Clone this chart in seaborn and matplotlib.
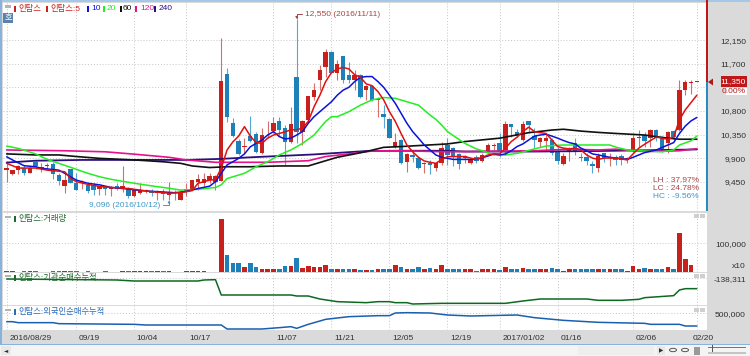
import matplotlib
matplotlib.use("Agg")
import matplotlib.pyplot as plt
from matplotlib.patches import Rectangle, Polygon
import numpy as np
import pandas as pd
import seaborn as sns

# daily candles, 2016/08/29 - 2017/02/20
opens = [9670, 9600, 9670, 9720, 9620, 9820, 9710, 9750, 9780, 9580,
         9360, 9690, 9430, 9420, 9390, 9390, 9320, 9340, 9320, 9360,
         9320, 9310, 9170, 9240, 9280, 9280, 9230, 9260, 9200, 9260,
         9110, 9280, 9320, 9450, 9420, 9480, 9450, 9460, 11500, 10560,
         10230, 10110, 10320, 10360, 9990, 10370, 10420, 10610, 10470, 10210,
         11440, 10400, 10630, 11070, 11390, 11630, 11930, 11530, 11840, 11490,
         11390, 11490, 11190, 11280, 11000, 10740, 10650, 10110, 10250, 9820,
         9960, 9900, 9790, 9810, 9710, 9800, 10150, 10090, 9970, 9900,
         9800, 9930, 9850, 10040, 10130, 10190, 10060, 10550, 10400, 10250,
         10610, 10320, 10200, 10230, 10250, 10020, 9790, 10020, 10180, 9930,
         9930, 9790, 9720, 9990, 9900, 9930, 9940, 9860, 10060, 10280,
         10340, 10280, 10440, 10280, 10180, 10410, 10440, 11190, 11330, 11350]
closes = [9720, 9670, 9740, 9620, 9720, 9740, 9720, 9760, 9590, 9460,
          9480, 9430, 9300, 9450, 9270, 9290, 9360, 9320, 9340, 9320,
          9360, 9170, 9300, 9270, 9300, 9230, 9260, 9210, 9240, 9230,
          9240, 9320, 9480, 9510, 9510, 9550, 9550, 11370, 10680, 10330,
          9980, 10130, 10230, 10020, 10340, 10380, 10560, 10440, 10210, 10550,
          10390, 10600, 11090, 11190, 11580, 11930, 11530, 11690, 11390, 11390,
          11490, 11070, 11280, 11010, 11020, 10680, 10290, 10200, 9800, 9980,
          9930, 9710, 9810, 9760, 9800, 10090, 9960, 9940, 9790, 9940,
          9860, 9850, 9960, 10150, 10150, 10040, 10550, 10490, 10320, 10550,
          10530, 10250, 10290, 10290, 9990, 9850, 9940, 10090, 10020, 9900,
          9850, 9740, 9940, 9900, 9920, 9860, 9860, 9900, 10280, 10300,
          10230, 10440, 10280, 10070, 10390, 10300, 11190, 11350, 11350, 11350]
highs = [9820, 9670, 9770, 9770, 9740, 9860, 9800, 9800, 9830, 9610,
         9610, 9700, 9610, 9480, 9450, 9420, 9360, 9360, 9360, 9420,
         9750, 9340, 9320, 9430, 9320, 9320, 9290, 9320, 9440, 9290,
         9290, 9420, 9480, 9600, 9610, 9610, 9580, 12200, 11610, 10660,
         10260, 10280, 10710, 10390, 10470, 10600, 10680, 10680, 10530, 10870,
         12550, 10630, 11090, 11330, 11680, 11980, 11950, 11780, 11850, 11740,
         11580, 11500, 11300, 11300, 11070, 10910, 10660, 10370, 10260, 9990,
         10060, 9920, 9830, 9860, 9800, 10210, 10280, 10120, 9990, 9960,
         9880, 9960, 9990, 10180, 10190, 10370, 10610, 10550, 10450, 10610,
         10610, 10470, 10310, 10370, 10280, 10120, 9990, 10120, 10280, 9990,
         9990, 9850, 9990, 10000, 10000, 9960, 9980, 9930, 10380, 10440,
         10390, 10450, 10450, 10320, 10410, 10440, 11390, 11390, 11390, 11350]
lows = [9450, 9580, 9600, 9580, 9610, 9700, 9640, 9670, 9510, 9390,
        9240, 9420, 9290, 9320, 9240, 9200, 9200, 9200, 9180, 9290,
        9260, 9130, 9150, 9220, 9230, 9170, 9100, 9100, 9096, 9110,
        9100, 9170, 9320, 9300, 9360, 9420, 9300, 9460, 10580, 10310,
        9960, 10000, 10210, 10000, 9980, 10280, 10370, 10320, 9770, 10180,
        10180, 10150, 10560, 11010, 11200, 11440, 11520, 11390, 11330, 11330,
        11200, 11040, 11010, 10980, 10680, 10480, 10280, 10090, 9790, 9640,
        9820, 9690, 9610, 9600, 9660, 9770, 9770, 9750, 9700, 9800,
        9790, 9800, 9830, 10000, 10060, 9930, 9960, 10300, 10300, 10230,
        10370, 10090, 10120, 10060, 9960, 9790, 9770, 9850, 9960, 9850,
        9770, 9620, 9640, 9830, 9740, 9770, 9770, 9810, 10020, 10120,
        10120, 10120, 10230, 10020, 9990, 10250, 10410, 11100, 11130, 11350]
volumes = [3000, 3000, 0, 3000, 3000, 3000, 0, 0, 3000, 3000,
           3000, 3000, 3000, 0, 3000, 0, 0, 3000, 0, 0,
           3000, 3000, 3000, 3000, 3000, 3000, 3000, 3000, 3000, 0,
           0, 3000, 3000, 3000, 3000, 0, 0, 187900, 57900, 28400,
           28400, 15400, 30700, 15400, 10600, 10600, 8300, 9500, 20100, 20100,
           47300, 13000, 20100, 16500, 17700, 21300, 8300, 9500, 8300, 7100,
           7100, 4700, 5900, 4700, 7100, 8300, 7100, 22500, 17700, 8300,
           8300, 15400, 10600, 13000, 7100, 24800, 8300, 8300, 8300, 7100,
           7100, 3500, 7100, 9500, 7100, 5900, 16500, 7100, 7100, 11800,
           7100, 9500, 9500, 7100, 11800, 8300, 3500, 9500, 9500, 7100,
           7100, 9500, 7100, 7100, 7100, 7100, 7100, 2400, 20100, 9500,
           11800, 9500, 7100, 7100, 16500, 9500, 137100, 42600, 22500, 0]

# moving averages, read at the day index in *_days
ma5_days = [0, 2, 5, 7, 8, 10, 11, 12, 14, 16, 18, 21, 23, 25, 28, 30, 32, 33, 35, 36, 37, 38, 39, 40, 41, 42, 43, 44,
            45, 46, 47, 48, 49, 50, 51, 52, 53, 54, 55, 56, 57, 58, 59, 60, 61, 62, 63, 64, 65, 66, 67, 68, 69, 70, 71,
            72, 73, 74, 75, 76, 77, 78, 79, 80, 81, 82, 83, 84, 85, 86, 87, 88, 89, 90, 91, 92, 93, 94, 95, 96, 97, 98,
            99, 100, 101, 102, 103, 105, 107, 108, 109, 110, 111, 112, 113, 114, 115, 116, 117, 118, 119]
ma5_vals = [9800, 9710, 9710, 9670, 9660, 9640, 9515, 9450, 9400, 9360, 9340, 9320, 9290, 9260, 9230, 9240, 9280, 9420,
            9480, 9490, 9710, 10055, 10210, 10320, 10500, 10320, 10195, 10180,
            10280, 10340, 10370, 10400, 10440, 10440, 10470, 10600, 10880, 11100, 11360, 11530, 11600, 11630, 11600,
            11490, 11440, 11315, 11280, 11170, 11010, 10785, 10600, 10370, 10150, 10020, 9915,
            9845, 9820, 9800, 9875, 9925, 9930, 9930, 9930, 9900, 9875, 9915, 9960, 9980, 9980, 10090, 10215, 10300,
            10405, 10490, 10405, 10385, 10370, 10245, 10120, 10090, 10075, 10090,
            10055, 9960, 9900, 9875, 9900, 9900, 9865, 9980, 10090, 10165, 10235, 10300, 10280, 10260, 10300, 10630,
            10820, 10960, 11100]
ma10_days = [0, 1, 3, 5, 6, 9, 10, 12, 14, 16, 18, 21, 23, 26, 29, 31, 33, 35, 36, 37, 38, 39, 40, 41, 42, 43, 44, 45,
             46, 47, 48, 49, 50, 51, 52, 53, 54, 55, 56, 57, 58, 59, 60, 61, 62, 63, 64, 65, 66, 67, 68, 69, 70, 71, 72,
             73, 74, 75, 77, 79, 81, 83, 84, 85, 86, 87, 88, 89, 90, 91, 92, 93, 94, 95, 96, 97, 98, 99, 100, 101, 102,
             104, 107, 108, 110, 112, 114, 115, 116, 117, 118, 119]
ma10_vals = [9925, 9865, 9755, 9735, 9705, 9670, 9610, 9480, 9420, 9390, 9340, 9310, 9280, 9260, 9240, 9265, 9320, 9365,
             9450, 9610, 9770, 9830, 9895, 9980, 10115, 10180, 10245, 10340,
             10405, 10310, 10265, 10280, 10340, 10405, 10565, 10690, 10785, 10880, 10975, 11100, 11195, 11250, 11360,
             11440, 11455, 11455, 11360, 11250, 11100, 10945, 10755, 10565, 10405, 10280, 10150,
             10055, 9960, 9915, 9875, 9875, 9875, 9940, 9980, 9960, 9980, 10040, 10120, 10170, 10245, 10320, 10340,
             10355, 10320, 10280, 10235, 10195, 10170, 10090, 10040, 9980, 9960,
             9915, 9875, 9915, 10005, 10055, 10150, 10195, 10370, 10510, 10610, 10675]
ma20_days = [0, 2, 5, 7, 9, 11, 14, 16, 18, 22, 25, 28, 30, 33, 36, 37, 38, 41, 43, 45, 47, 49, 51, 53, 54, 55, 56, 57,
             59, 61, 63, 65, 67, 69, 71, 73, 74, 75, 76, 79, 81, 82, 84, 86, 88, 91, 93, 96, 100, 104, 105, 107, 110,
             113, 115, 116, 118, 119]
ma20_vals = [10130, 10085, 9980, 9875, 9800, 9725, 9610, 9545, 9495, 9420, 9370, 9325, 9290, 9305, 9340, 9390, 9510,
             9610, 9735, 9830, 9960, 10055, 10180, 10340, 10470, 10600, 10690, 10690,
             10785, 10910, 11010, 11055, 11040, 10975, 10910, 10720, 10640, 10530, 10405, 10180, 10075, 10040, 9960,
             9960, 9990, 10075, 10130, 10150, 10150, 10150, 10110, 10055, 10035,
             10020, 10055, 10150, 10230, 10320]
ma60_days = [0, 5, 9, 12, 16, 22, 27, 30, 32, 35, 38, 42, 47, 52, 55, 57, 60, 62, 65, 68, 72, 76, 79, 85, 90, 94, 96,
             99, 102, 105, 110, 114, 116, 119]
ma60_vals = [9980, 9960, 9960, 9930, 9895, 9865, 9830, 9800, 9750, 9720, 9735, 9735, 9750, 9750, 9850, 9915, 9980,
             10025, 10105, 10120, 10145, 10170, 10215, 10280, 10385, 10435, 10450,
             10415, 10390, 10370, 10340, 10280, 10260, 10260]
ma120_days = [0, 10, 17, 22, 28, 31, 36, 45, 52, 55, 59, 63, 68, 76, 79, 91, 97, 102, 105, 110, 116, 119]
ma120_vals = [10055, 10040, 10020, 9975, 9915, 9865, 9820, 9820, 9850, 9930, 9980, 10035, 10040, 10020, 10025, 10040,
              10070, 10055, 10070, 10025, 10040, 10080]
ma240_days = [0, 5, 13, 22, 31, 37, 42, 45, 53, 62, 68, 76, 79, 91, 102, 119]
ma240_vals = [9815, 9850, 9865, 9865, 9865, 9885, 9915, 9930, 9970, 10035, 10040, 10040, 10025, 10025, 10035, 10065]

inst_days = [0, 19, 22, 33, 34, 36, 37, 49, 50, 52, 54, 57, 62, 64, 66, 67, 69, 70, 75, 86, 89, 92, 100, 102, 106, 109,
             110, 115, 116, 117, 119]
inst_vals = [-140300, -143300, -146300, -146300, -143300, -142300, -188300, -188300, -191300, -191300, -200300, -208300,
             -211300, -208300, -208300, -211300, -211300, -215300, -213300, -213300, -206300, -200300, -200300, -204300,
             -204300, -201300, -196300, -190300, -173300, -169300, -169300]
foreign_days = [0, 1, 2, 8, 9, 22, 24, 37, 38, 44, 47, 49, 50, 52, 55, 59, 64, 66, 67, 69, 73, 76, 80, 88, 91, 96, 100,
                102, 110, 111, 116, 117, 119]
foreign_vals = [375000, 375000, 360000, 360000, 345000, 335000, 325000, 325000, 265000, 265000, 285000, 300000, 275000,
                335000, 410000, 450000, 465000, 465000, 505000, 510000, 505000, 475000, 460000, 475000, 435000, 395000,
                375000, 365000, 350000, 335000, 335000, 310000, 310000]

price_ticks = [12150, 11700, 11250, 10800, 10350, 9900, 9450]
price_labels = ['12,150', '11,700', '', '10,800', '10,350', '9,900', '9,450']
date_days = [0, 12, 22, 31, 46, 56, 66, 76, 85, 95, 108, 119]
date_labels = ['2016/08/29', '09/19', '10/04', '10/17', '11/07', '11/21', '12/05', '12/19',
               '2017/01/02', '01/16', '02/06', '02/20']

W, H = 750, 356
L, R = 3, 707
RED, BLUE = '#c8201c', '#1d80b8'
RED_TXT, BLUE_TXT = '#a84444', '#3f97c8'
GRID = '#c6c6c6'

sns.set_style('white')
plt.rcParams['font.family'] = ['Liberation Sans', 'Noto Sans CJK KR', 'DejaVu Sans']
plt.rcParams['font.size'] = 6
plt.rcParams['patch.force_edgecolor'] = False

days = np.arange(len(opens))
candles = pd.DataFrame({'day': days, 'open': opens, 'high': highs, 'low': lows, 'close': closes, 'volume': volumes})
candles['side'] = np.where(candles['close'] >= candles['open'], 'up', 'down')
side_colors = {'up': RED, 'down': BLUE}
wick_colors = {'up': '#d4706c', 'down': '#58a6d2'}

fig = plt.figure(figsize=(W / 100, H / 100), dpi=100, facecolor='#dadada')


def box(x0, y0, x1, y1, color, z=5):
    fig.add_artist(Rectangle((x0 / W, 1 - y1 / H), (x1 - x0) / W, (y1 - y0) / H,
                             transform=fig.transFigure, facecolor=color, edgecolor='none', zorder=z))


def label(x, y, s, color='#303030', ha='left', size=6, **kw):
    fig.text(x / W, 1 - y / H, s, color=color, ha=ha, va='center', fontsize=size, zorder=8, **kw)


def panel(top, bottom):
    ax = fig.add_axes([L / W, 1 - bottom / H, (R - L) / W, (bottom - top) / H])
    ax.set_xlim((L - 6.67) / 5.8, (R - 6.67) / 5.8)
    ax.set_xticks(date_days)
    ax.set_xticklabels([])
    ax.yaxis.tick_right()
    ax.tick_params(axis='x', length=0)
    ax.tick_params(axis='y', length=0, pad=28, labelsize=6, labelcolor='#303030')
    ax.grid(True, color=GRID, linestyle=(0, (1, 2)), linewidth=0.7)
    ax.set_axisbelow(True)
    sns.despine(ax=ax, left=True, right=True, top=True, bottom=True)
    return ax


def right_labels(ax, ticks, labels):
    ax.set_yticks(ticks)
    ax.set_yticklabels(labels, ha='right')


ax_price = panel(3, 211)
ax_vol = panel(213, 271.5)
ax_inst = panel(273, 305)
ax_foreign = panel(306, 330)

# candles
for side, part in candles.groupby('side'):
    ax_price.vlines(part['day'], part['low'], part['high'], color=wick_colors[side], linewidth=0.8, zorder=2)
    ax_price.bar(part['day'], (part['close'] - part['open']).abs().clip(lower=12),
                 bottom=part[['open', 'close']].min(axis=1), width=0.76, color=side_colors[side],
                 edgecolor='none', linewidth=0, zorder=3)

ma_lines = [(ma240_days, ma240_vals, '#2c0f7c', 1.3),
            (ma120_days, ma120_vals, '#e5128c', 1.2),
            (ma60_days, ma60_vals, '#111111', 1.2),
            (ma20_days, ma20_vals, '#22ee22', 1.1),
            (ma10_days, ma10_vals, '#0a14d8', 1.1),
            (ma5_days, ma5_vals, '#e01010', 1.1)]
for d, v, c, lw in ma_lines:
    sns.lineplot(x=d, y=v, color=c, linewidth=lw, ax=ax_price, estimator=None, errorbar=None, zorder=4)

ax_price.set_xlim((L - 6.67) / 5.8, (R - 6.67) / 5.8)
ax_price.set_ylim(8891, 12858)
right_labels(ax_price, price_ticks, price_labels)

ax_price.annotate('12,550 (2016/11/11)', xy=(50, 12550), xytext=(8, 5), textcoords='offset pixels',
                  color=RED_TXT, fontsize=6, va='center', zorder=6,
                  arrowprops=dict(arrowstyle='-|>,head_width=0.1,head_length=0.2', color=RED_TXT, lw=0.7,
                                  connectionstyle='angle,angleA=0,angleB=90', shrinkA=0, shrinkB=0))
ax_price.annotate('9,096 (2016/10/12)', xy=(28, 9096), xytext=(-9, -5), textcoords='offset pixels',
                  color=BLUE_TXT, fontsize=6, ha='right', va='center', zorder=6,
                  arrowprops=dict(arrowstyle='-|>,head_width=0.1,head_length=0.2', color=BLUE_TXT, lw=0.7,
                                  connectionstyle='angle,angleA=0,angleB=90', shrinkA=0, shrinkB=0))

# volume
sns.barplot(data=candles, x='day', y='volume', hue='side', palette=side_colors, native_scale=True, dodge=False,
            width=0.78, saturation=1, errorbar=None, legend=False, linewidth=0, edgecolor='none', ax=ax_vol)
ax_vol.set_xlim((L - 6.67) / 5.8, (R - 6.67) / 5.8)
ax_vol.set_ylim(0, 207400)
ax_vol.set_xticks(date_days)
ax_vol.set_xticklabels([])
ax_vol.set_xlabel('')
ax_vol.set_ylabel('')
right_labels(ax_vol, [100000], ['100,000'])

# cumulative net buying
sns.lineplot(x=inst_days, y=inst_vals, color='#0b6a20', linewidth=1.1, ax=ax_inst, estimator=None, errorbar=None)
ax_inst.set_xlim((L - 6.67) / 5.8, (R - 6.67) / 5.8)
ax_inst.set_ylim(-218311, -122311)
right_labels(ax_inst, [-138311], ['-138,311'])

sns.lineplot(x=foreign_days, y=foreign_vals, color='#1a5fb0', linewidth=1.1, ax=ax_foreign, estimator=None, errorbar=None)
ax_foreign.set_xlim((L - 6.67) / 5.8, (R - 6.67) / 5.8)
ax_foreign.set_ylim(250000, 610000)
right_labels(ax_foreign, [500000], ['500,000'])

# date strip
ax_foreign.tick_params(axis='x', length=3, width=0.7, color='#8a8a8a', pad=0)
for d, s in zip(date_days, date_labels):
    ax_foreign.annotate(s, xy=(d, 0), xycoords=ax_foreign.get_xaxis_transform(),
                        xytext=(-4 if s == '02/20' else 2.5, -8), textcoords='offset pixels',
                        ha='left', va='center', fontsize=6, color='#303030', annotation_clip=False)

# window chrome
box(0, 0, 750, 2, '#a6c8e8')
box(0, 0, 2, 345, '#86b2de')
box(706, 0, 708, 82, '#c01818')
box(706, 82, 708, 211, '#2a8cc4')
box(0, 344, 750, 345, '#86b2de', z=-1)
box(0, 345, 750, 356, '#f4f4f4', z=-1)
box(1, 346, 11, 355, '#e8e8e8')
label(6, 350.5, '◄', ha='center', size=4, family=['DejaVu Sans'])
box(578, 346, 654, 355, '#eeeeee')
box(657, 346, 665, 355, '#e8e8e8')
label(661, 350.5, '▶', ha='center', size=4, family=['DejaVu Sans'])
for cx in (673, 685):
    fig.add_artist(plt.Circle((cx / W, 1 - 350 / H), 3.5 / W, transform=fig.transFigure, fill=False,
                              edgecolor='#555555', linewidth=0.7, zorder=6))
box(694, 347, 700, 355, '#9a9a9a')
box(708, 347, 746, 348, '#777777')
box(712, 345, 713, 352, '#555555')
box(708, 352, 746, 354, '#c4c4c4')

# current price flag
fig.add_artist(Polygon([(708 / W, 1 - 82 / H), (713 / W, 1 - 78.5 / H), (713 / W, 1 - 85.5 / H)],
                       transform=fig.transFigure, facecolor='#b01818', edgecolor='none', zorder=6))
box(721, 76, 747, 87, '#c01818')
box(726, 88, 747, 95, 'white')
label(746, 81.5, '11,350', color='white', ha='right')
label(746, 91.5, '0.00%', color='#b01818', ha='right')

# legends
box(5, 5, 11, 7.5, '#b4b4b4')
legend_marks = [(15, RED, 18, '인탑스'), (47, RED, 50, '인탑스:5'), (87.5, '#0a14d8', 91, '10'), (104, '#22ee22', 107, '20'),
                (121, '#111111', 123, '60'), (136, '#e5128c', 140, '120'), (155, '#2c0f7c', 159, '240')]
for mx, c, tx, s in legend_marks:
    box(mx - 1, 6, mx + 1, 12, c)
    label(tx, 9, s, color=c, size=6)
box(3, 13, 13, 23, '#5b82ab')
label(8, 18, '호', color='white', ha='center', size=6)

for y, c, s in [(219, '#1f6a2a', '인탑스:거래량'), (278, '#1f6a2a', '인탑스:기관순매수누적'), (312, '#2a6cb8', '인탑스:외국인순매수누적')]:
    box(5, y - 3, 11, y - 1, '#b4b4b4')
    box(14, y - 3, 16, y + 3, c)
    label(18, y, s, color=c, size=6)

for y in (216, 276, 310):
    box(694, y - 2, 699, y + 2, '#cfcfcf')
    box(700, y - 2, 705, y + 2, '#cfcfcf')

label(746, 266, 'x10', ha='right')

for y, c, s in [(180, RED_TXT, 'LH : 37.97%'), (188.5, RED_TXT, 'LC : 24.78%'), (196.7, BLUE_TXT, 'HC : -9.56%')]:
    label(699, y, s, color=c, ha='right', size=6)

fig.savefig('out.png', dpi=100, facecolor=fig.get_facecolor())
